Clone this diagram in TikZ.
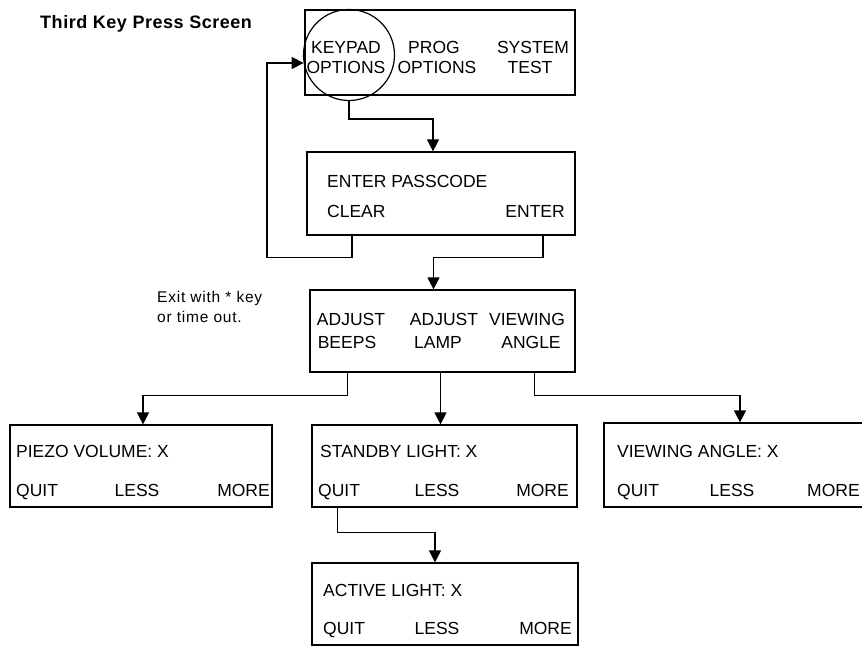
\documentclass[tikz,border=0pt]{standalone}
\usepackage{fontspec}
\setmainfont{Liberation Sans}
\usetikzlibrary{arrows.meta,calc}
\begin{document}
\begin{tikzpicture}[x=1pt,y=-1pt,
  box/.style={draw, line width=1.2pt, inner sep=0pt},
  ring/.style={draw, circle, line width=1.2pt, inner sep=0pt, minimum size=91pt},
  arr/.style={line width=1.2pt, -{Triangle[length=12pt,width=12pt]}},
  lbl/.style={font=\fontsize{17.5}{19}\selectfont, inner sep=0pt, text height=12.5pt, text depth=0pt},
  ttl/.style={font=\fontsize{18}{20}\selectfont\bfseries\addfontfeature{LetterSpace=3}, inner sep=0pt, anchor=west, text height=13pt, text depth=0pt},
  note/.style={font=\fontsize{15.5}{17}\selectfont\addfontfeature{LetterSpace=5}, inner sep=0pt, anchor=west, text height=11pt, text depth=0pt}]
\useasboundingbox (0,0) rectangle (862,647);
\clip (0,0) rectangle (862,647);

% title and note
\node[ttl] (title) at (40,22) {Third Key Press Screen};
\node[note] (n1) at (157,297) {Exit with * key};
\node[note] (n2) at (157,317) {or time out.};

% boxes
\node[box, minimum width=270pt, minimum height=85pt] (top) at (440,52.5) {};
\node[ring] (kp) at (349,55) {};
\node[box, minimum width=268pt, minimum height=83pt] (pass) at (441,193.5) {};
\node[box, minimum width=265pt, minimum height=82pt] (adj) at (442.5,331) {};
\node[box, minimum width=262pt, minimum height=82pt] (piezo) at (141,466) {};
\node[box, minimum width=265pt, minimum height=82pt] (standby) at (444.5,466) {};
\node[box, minimum width=266pt, minimum height=84pt] (view) at (737,465) {};
\node[box, minimum width=266pt, minimum height=82pt] (active) at (445,604) {};

% top box texts
\node[lbl] (k1) at (346,47.5) {KEYPAD};
\node[lbl] (k2) at (346,67) {OPTIONS};
\node[lbl] (p1) at (434,47.5) {PROG};
\node[lbl] (p2) at (437,67) {OPTIONS};
\node[lbl] (s1) at (533,47.5) {SYSTEM};
\node[lbl] (s2) at (530,67) {TEST};

% passcode texts
\node[lbl, anchor=west] (e1) at (327,181) {ENTER PASSCODE};
\node[lbl, anchor=west] (e2) at (327,211) {CLEAR};
\node[lbl, anchor=east] (e3) at (565,211) {ENTER};

% adjust texts
\node[lbl] (a1) at (351,319) {ADJUST};
\node[lbl] (a2) at (347,342) {BEEPS};
\node[lbl] (a3) at (444,319) {ADJUST};
\node[lbl] (a4) at (438,342) {LAMP};
\node[lbl] (a5) at (527,319) {VIEWING};
\node[lbl] (a6) at (531,342) {ANGLE};

% piezo texts
\node[lbl, anchor=west] (pz1) at (16,451) {PIEZO VOLUME: X};
\node[lbl, anchor=west] (pz2) at (16,490) {QUIT};
\node[lbl] (pz3) at (137,490) {LESS};
\node[lbl, anchor=east] (pz4) at (270,490) {MORE};

% standby texts
\node[lbl, anchor=west] (sb1) at (320,451) {STANDBY LIGHT: X};
\node[lbl, anchor=west] (sb2) at (318,490) {QUIT};
\node[lbl] (sb3) at (437,490) {LESS};
\node[lbl, anchor=east] (sb4) at (569,490) {MORE};

% viewing texts
\node[lbl, anchor=west] (vw1) at (617,451) {VIEWING ANGLE: X};
\node[lbl, anchor=west] (vw2) at (617,490) {QUIT};
\node[lbl] (vw3) at (732,490) {LESS};
\node[lbl, anchor=west] (vw4) at (807,490) {MORE};

% active texts
\node[lbl, anchor=west] (ac1) at (323,590) {ACTIVE LIGHT: X};
\node[lbl, anchor=west] (ac2) at (323,628) {QUIT};
\node[lbl] (ac3) at (437,628) {LESS};
\node[lbl, anchor=east] (ac4) at (572,628) {MORE};

% connectors
\draw[arr] (kp.south) -- ++(0,18) -| ([xshift=-8pt]pass.north);
\draw[arr] ([xshift=-89pt]pass.south) -- ++(0,22) -- ++(-85,0) |- (kp.190);
\draw[arr] ([xshift=102pt]pass.south) -- ++(0,22) -| ([xshift=-9pt]adj.north);
\draw[arr] ([xshift=-95pt]adj.south) -- ++(0,23) -| ([xshift=2pt]piezo.north);
\draw[arr] ([xshift=-2pt]adj.south) -- ([xshift=-2pt]adj.south |- standby.north);
\draw[arr] ([xshift=92pt]adj.south) -- ++(0,23) -| ([xshift=3pt]view.north);
\draw[arr] ([xshift=-107pt]standby.south) -- ++(0,25) -| ([xshift=-10pt]active.north);
\end{tikzpicture}
\end{document}
